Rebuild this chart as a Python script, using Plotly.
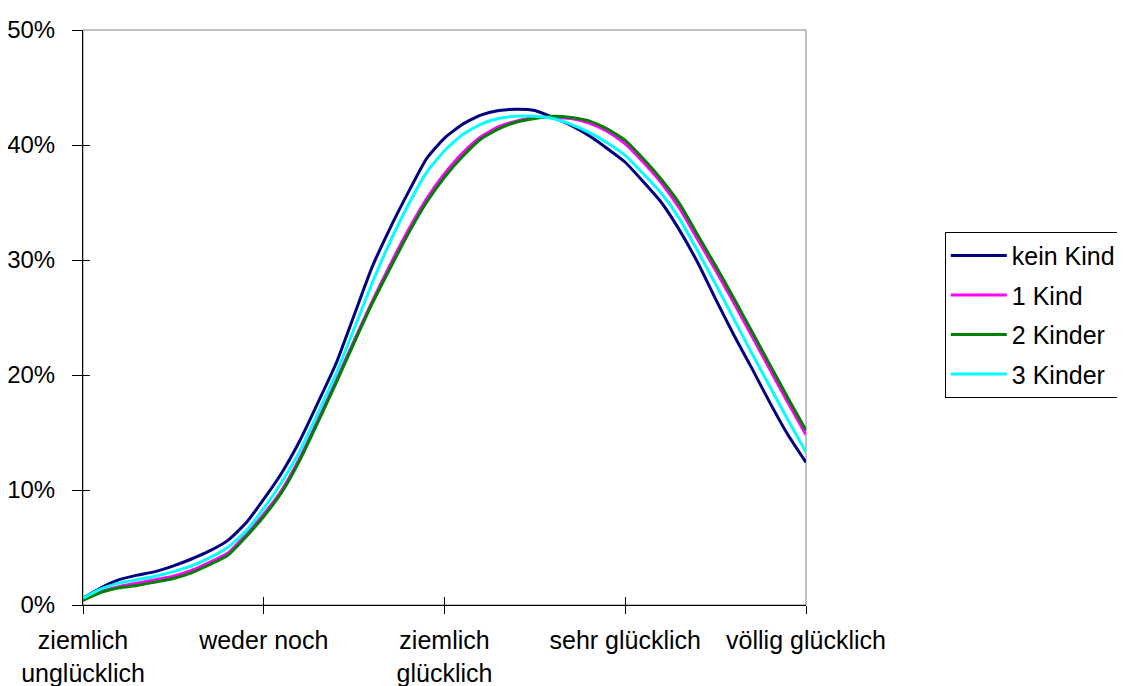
import plotly.graph_objects as go

# ---- data (percent) ----
categories = ["ziemlich<br>unglücklich", "weder noch", "ziemlich<br>glücklich",
              "sehr glücklich", "völlig glücklich"]
x_points = list(range(41))
cat_ticks = [0, 10, 20, 30, 40]

kein_kind = [0.6, 1.5, 2.2, 2.6, 2.9, 3.4, 4.0, 4.7, 5.6, 7.1,
             9.2, 11.5, 14.3, 17.6, 21.0, 25.2, 29.4, 32.8, 35.9, 38.8,
             40.6, 41.8, 42.6, 43.0, 43.1, 43.0, 42.4, 41.7, 40.8, 39.7,
             38.5, 36.8, 35.0, 32.6, 29.8, 26.6, 23.5, 20.6, 17.6, 14.8, 12.4]
ein_kind = [0.5, 1.2, 1.6, 1.9, 2.2, 2.5, 3.0, 3.7, 4.5, 6.1,
            7.9, 10.0, 12.8, 16.1, 19.5, 23.0, 26.4, 29.6, 32.6, 35.3,
            37.5, 39.3, 40.7, 41.6, 42.1, 42.4, 42.4, 42.3, 41.9, 41.2,
            40.1, 38.5, 36.7, 34.5, 31.8, 29.1, 26.3, 23.4, 20.5, 17.6, 14.8]
zwei_kinder = [0.4, 1.1, 1.5, 1.7, 2.0, 2.3, 2.8, 3.5, 4.3, 5.9,
               7.7, 9.8, 12.6, 15.9, 19.3, 22.8, 26.2, 29.3, 32.3, 35.0,
               37.2, 39.0, 40.5, 41.4, 42.0, 42.3, 42.5, 42.4, 42.1, 41.4,
               40.4, 38.8, 37.0, 34.9, 32.2, 29.5, 26.7, 23.8, 20.9, 18.0, 15.2]
drei_kinder = [0.6, 1.4, 1.9, 2.2, 2.5, 2.9, 3.4, 4.1, 5.0, 6.4,
               8.4, 10.7, 13.4, 16.7, 20.1, 24.0, 28.0, 31.6, 34.8, 37.6,
               39.5, 40.9, 41.8, 42.3, 42.5, 42.5, 42.3, 41.8, 41.1, 40.2,
               39.1, 37.5, 35.8, 33.6, 30.8, 27.9, 24.9, 21.9, 19.0, 16.1, 13.3]

series_names = ["kein Kind", "1 Kind", "2 Kinder", "3 Kinder"]
series_values = [kein_kind, ein_kind, zwei_kinder, drei_kinder]
series_colors = ["#000080", "#FF00FF", "#008000", "#00FFFF"]

y_ticks = [0, 10, 20, 30, 40, 50]
y_ticktext = ["0%", "10%", "20%", "30%", "40%", "50%"]

FONT = "Liberation Sans, Arial, sans-serif"

fig = go.Figure()
for i, (name, vals, col) in enumerate(zip(series_names, series_values, series_colors)):
    fig.add_trace(go.Scatter(
        x=x_points, y=vals, name=name, mode="lines",
        line=dict(color=col, width=3, shape="spline", smoothing=0.5),
        legendgroup=f"g{i}",
    ))

# helper trace on overlay axes (to draw inner half of crossing ticks)
fig.add_trace(go.Scatter(x=[None], y=[None], xaxis="x2", yaxis="y2",
                         showlegend=False, hoverinfo="skip"))

fig.update_layout(
    width=1125, height=686,
    margin=dict(l=75, r=327, t=22, b=89, autoexpand=False),
    paper_bgcolor="white", plot_bgcolor="white",
    font=dict(family=FONT, size=24, color="black"),
    showlegend=True,
    legend=dict(
        x=1.192, y=0.649, xanchor="left", yanchor="top",
        bordercolor="black", borderwidth=1, bgcolor="white",
        font=dict(family=FONT, size=25, color="black"),
        tracegroupgap=4, itemwidth=56,
    ),
    xaxis=dict(
        range=[0, 40], tickmode="array", tickvals=cat_ticks, ticktext=categories,
        showgrid=False, zeroline=False, showline=True, linecolor="black", linewidth=1,
        ticks="outside", ticklen=8, tickcolor="black", tickwidth=1, automargin=False,
        ticklabelstandoff=5,
        tickfont=dict(family=FONT, size=25, color="black"),
    ),
    yaxis=dict(
        range=[0, 50], tickmode="array", tickvals=y_ticks, ticktext=y_ticktext,
        showgrid=False, zeroline=False, showline=True, linecolor="black", linewidth=1,
        ticks="outside", ticklen=10, tickcolor="black", tickwidth=1, automargin=False,
        ticklabelstandoff=12,
        tickfont=dict(family=FONT, size=24, color="black"),
    ),
    xaxis2=dict(
        range=[0, 40], overlaying="x", anchor="y2", tickmode="array", tickvals=cat_ticks,
        showticklabels=False, showgrid=False, zeroline=False, showline=False,
        ticks="inside", ticklen=8, tickcolor="black", tickwidth=1, side="bottom",
        automargin=False,
    ),
    yaxis2=dict(
        range=[0, 50], overlaying="y", anchor="x2", tickmode="array", tickvals=y_ticks,
        showticklabels=False, showgrid=False, zeroline=False, showline=False,
        ticks="inside", ticklen=7, tickcolor="black", tickwidth=1, side="left",
        automargin=False,
    ),
    shapes=[dict(type="rect", xref="paper", yref="paper", x0=0, x1=1, y0=0, y1=1,
                 line=dict(color="#808080", width=1), layer="below")],
)

fig.write_html("out.html")
